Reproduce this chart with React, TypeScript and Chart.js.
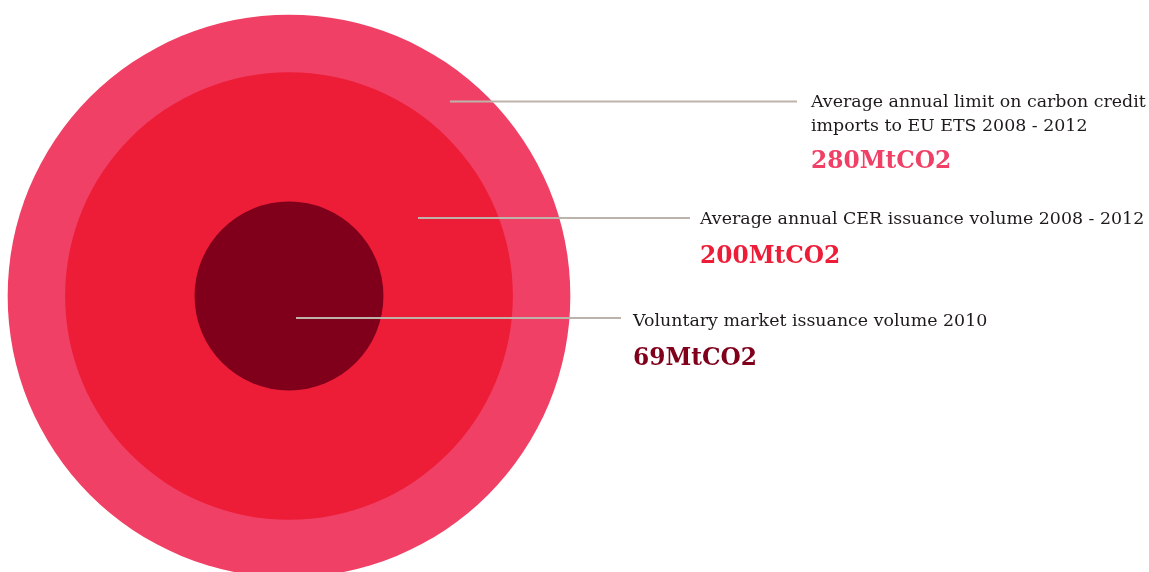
import React, { useEffect, useRef } from "react";
import { Chart, registerables } from "chart.js";

Chart.register(...registerables);

// ---- data ----
const categories = [
  "Average annual limit on carbon credit imports to EU ETS 2008 - 2012",
  "Average annual CER issuance volume 2008 - 2012",
  "Voluntary market issuance volume 2010",
];
const labelLines = [
  ["Average annual limit on carbon credit", "imports to EU ETS 2008 - 2012"],
  ["Average annual CER issuance volume 2008 - 2012"],
  ["Voluntary market issuance volume 2010"],
];
const values = [280, 200, 69];
const unit = "MtCO2";
const colors = ["#f04066", "#ed1c37", "#80001c"];

// ---- visual encoding (radius from value) ----
const RADIUS_SCALE = 22.18;
const RADIUS_OFFSET = 89.8;
const radiusFor = (v: number) => RADIUS_SCALE * Math.sqrt(v) - RADIUS_OFFSET;

// ---- callout layout (pixels) ----
const callouts = [
  { x0: 450, x1: 797, lineY: 101.5, textX: 811, baseline: 107, valueBaseline: 168 },
  { x0: 418, x1: 690, lineY: 218, textX: 700, baseline: 224, valueBaseline: 263 },
  { x0: 296, x1: 621, lineY: 318, textX: 633, baseline: 326, valueBaseline: 365 },
];
const LINE_GAP = 24;
const LABEL_FONT = '17.4px "DejaVu Serif"';
const VALUE_FONT = 'bold 23.3px "DejaVu Serif"';

const calloutPlugin = {
  id: "callouts",
  afterDatasetsDraw(chart: any) {
    const ctx = chart.ctx as CanvasRenderingContext2D;
    ctx.save();
    callouts.forEach((c, i) => {
      ctx.beginPath();
      ctx.strokeStyle = "#bdb3aa";
      ctx.lineWidth = 1.8;
      ctx.moveTo(c.x0, c.lineY);
      ctx.lineTo(c.x1, c.lineY);
      ctx.stroke();
      ctx.fillStyle = "#1e1a1b";
      ctx.font = LABEL_FONT;
      ctx.textAlign = "left";
      ctx.textBaseline = "alphabetic";
      labelLines[i].forEach((line, j) => {
        ctx.fillText(line, c.textX, c.baseline + j * LINE_GAP);
      });
      ctx.fillStyle = colors[i];
      ctx.font = VALUE_FONT;
      ctx.fillText(`${values[i]}${unit}`, c.textX, c.valueBaseline);
    });
    ctx.restore();
  },
};

export default function App() {
  const ref = useRef<HTMLCanvasElement | null>(null);
  useEffect(() => {
    if (!ref.current) return;
    const chart = new Chart(ref.current, {
      type: "bubble",
      data: {
        labels: categories,
        datasets: [
          {
            label: "Volume",
            data: values.map((v) => ({ x: 0, y: 0, r: radiusFor(v) })),
            backgroundColor: colors,
            borderWidth: 0,
            hoverBorderWidth: 0,
            clip: false as any,
          },
        ],
      },
      options: {
        responsive: false,
        animation: false,
        layout: { padding: 0, autoPadding: false },
        plugins: { legend: { display: false }, tooltip: { enabled: false } },
        events: [],
        scales: {
          x: { type: "linear", min: -289, max: 860, display: false },
          y: { type: "linear", min: -276, max: 296, display: false },
        },
      },
      plugins: [calloutPlugin],
    });
    return () => chart.destroy();
  }, []);
  return (
    <div style={{ position: "absolute", left: 0, top: 0, width: 1149, height: 572, background: "#fff" }}>
      <canvas ref={ref} width={1149} height={572} />
    </div>
  );
}
